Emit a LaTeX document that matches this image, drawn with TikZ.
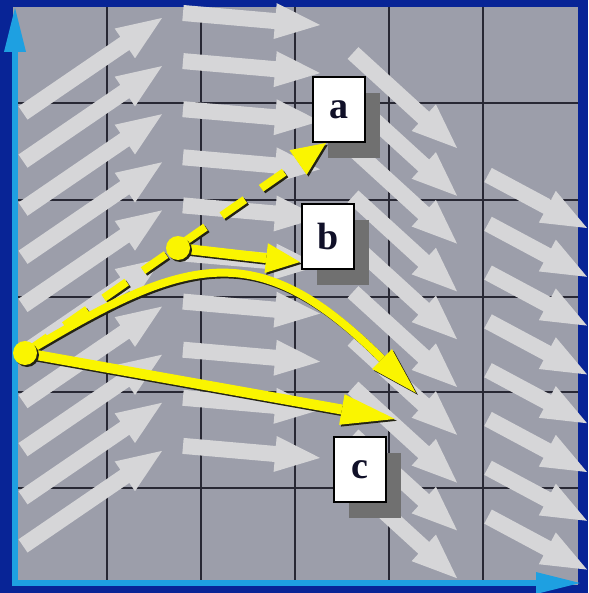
\documentclass[tikz,border=0pt]{standalone}
\usepackage{fontspec}
\setmainfont{Liberation Serif}
\usetikzlibrary{arrows.meta,shadows}
\definecolor{frameblue}{RGB}{8,36,150}
\definecolor{axisblue}{RGB}{30,160,225}
\definecolor{bggrey}{RGB}{156,158,170}
\definecolor{fieldgrey}{RGB}{214,214,216}
\definecolor{gridcol}{RGB}{40,40,52}
\definecolor{yel}{RGB}{250,245,0}
\definecolor{yshadow}{RGB}{35,35,20}
\definecolor{boxshadow}{RGB}{112,112,112}
\definecolor{labtext}{RGB}{16,16,40}
% block arrow of the vector field: tail (#1,#2), tip (#3,#4)
\newcommand\fieldarr[4]{%
  \pgfmathsetmacro\fdx{#3-#1}%
  \pgfmathsetmacro\fdy{#4-#2}%
  \pgfmathsetmacro\flen{veclen(\fdx,\fdy)}%
  \pgfmathsetmacro\fux{\fdx/\flen}%
  \pgfmathsetmacro\fuy{\fdy/\flen}%
  \pgfmathsetmacro\fbx{#3-45*\fux}%
  \pgfmathsetmacro\fby{#4-45*\fuy}%
  \fill[fieldarrow] ({#1-8*\fuy},{#2+8*\fux}) -- ({\fbx-8*\fuy},{\fby+8*\fux})
    -- ({\fbx-18*\fuy},{\fby+18*\fux}) -- ({#3},{#4})
    -- ({\fbx+18*\fuy},{\fby-18*\fux}) -- ({\fbx+8*\fuy},{\fby-8*\fux})
    -- ({#1+8*\fuy},{#2-8*\fux}) -- cycle;}
\newcommand\yellowpaths[2]{%
  \begin{scope}[#1]
    \draw[yline,dash pattern=on 28pt off 20pt,-{Triangle[length=34pt,width=30pt,line width=0pt,fill=#2]}] (p1) -- (ta);
    \draw[yline,line width=10pt,-{Triangle[length=34pt,width=30pt,line width=0pt,fill=#2]}] (p2) -- (tb);
    \draw[yline,-{Triangle[length=48pt,width=28pt,line width=0pt,fill=#2]}] (p1) .. controls (185,257) and (256,233) .. (tcv);
    \draw[yline,line width=10pt,-{Triangle[length=54pt,width=31pt,line width=0pt,fill=#2]}] (p1) -- (tc);
  \end{scope}}
\begin{document}
\begin{tikzpicture}[x=1pt,y=-1pt,
  fieldarrow/.style={fill=fieldgrey},
  gridstyle/.style={draw=gridcol,line width=2pt},
  axisline/.style={draw=axisblue,line width=6pt,-{Triangle[length=44pt,width=22pt,line width=0pt]}},
  yline/.style={line width=8pt},
  ydot/.style={circle,fill=yel,minimum size=24pt,inner sep=0pt,
    drop shadow={shadow xshift=2pt,shadow yshift=-2pt,fill=yshadow,opacity=1}},
  labelbox/.style={draw=black,line width=2.5pt,fill=white,minimum width=52pt,minimum height=65pt,
    inner sep=0pt,text=labtext,font=\fontsize{38}{38}\selectfont\bfseries,
    drop shadow={shadow xshift=15pt,shadow yshift=-16pt,fill=boxshadow,opacity=1}}]
% frame and background
\fill[frameblue] (0,0) rectangle (588,593);
\useasboundingbox (0,0) rectangle (588,593);
\fill[bggrey] (13,7) rectangle (578,585);
% grid
\foreach \gx in {107,201,295,389,483} \draw[gridstyle] (\gx,7) -- (\gx,585);
\foreach \gy in {103,200,297,392,488} \draw[gridstyle] (13,\gy) -- (578,\gy);
% vector field
\foreach \k in {0,...,9}{\pgfmathsetmacro\ty{113+48.1*\k}\fieldarr{23}{\ty}{162}{\ty-95}}
\foreach \k in {0,...,9}{\pgfmathsetmacro\ty{13+48.1*\k}\fieldarr{183}{\ty}{320}{\ty+12}}
\foreach \k in {0,...,9}{\pgfmathsetmacro\ty{53+47.8*\k}\fieldarr{353}{\ty}{457}{\ty+95}}
\foreach \k in {0,...,7}{\pgfmathsetmacro\ty{175+48.8*\k}\fieldarr{488}{\ty}{587}{\ty+53}}
% axes
\coordinate (o) at (15,586);
\coordinate (ytop) at (15,8);
\coordinate (ox) at (12,583);
\coordinate (xend) at (580,583);
\draw[axisline] (o) -- (ytop);
\draw[axisline] (ox) -- (xend);
% yellow trajectories
\coordinate (p1) at (25,353);
\coordinate (p2) at (178,248);
\coordinate (ta) at (326,143);
\coordinate (tb) at (300,262);
\coordinate (tcv) at (416,393);
\coordinate (tc) at (395,419);
\yellowpaths{draw=yshadow,transform canvas={shift={(1.8pt,-1.8pt)}}}{yshadow}
\yellowpaths{draw=yel}{yel}
\node[ydot] (d1) at (p1) {};
\node[ydot] (d2) at (p2) {};
% labels
\node[labelbox] (a) at (339,109.5) {a};
\node[labelbox] (b) at (328,236.5) {b};
\node[labelbox] (c) at (360,469.5) {c};
\end{tikzpicture}
\end{document}
